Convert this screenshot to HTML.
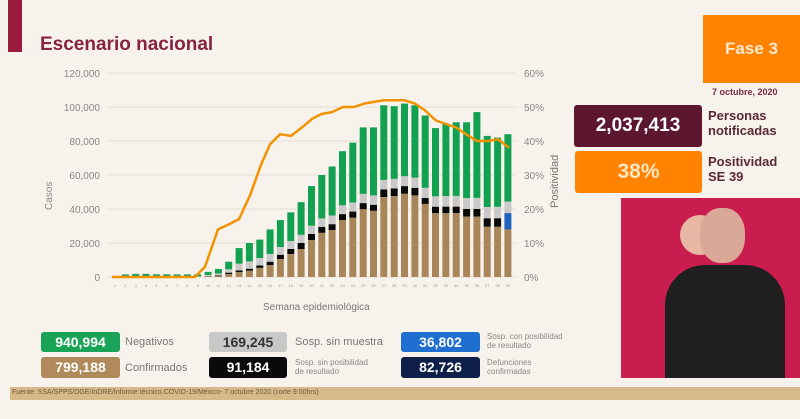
<!DOCTYPE html>
<html><head><meta charset="utf-8"><style>
*{margin:0;padding:0;box-sizing:border-box}
body{width:800px;height:419px;overflow:hidden;background:#f7f3ec;font-family:"Liberation Sans",sans-serif;position:relative}
.a{position:absolute}
.box{position:absolute;color:#fff;font-weight:bold;text-align:center;border-radius:3px}
.lbl{position:absolute;color:#777;font-size:11px;line-height:11px}
.sl{position:absolute;color:#888;font-size:8px;line-height:9px}
</style></head><body>
<div class="a" style="left:8px;top:0;width:14px;height:52px;background:#9b1b3f"></div>
<div class="a" style="left:40px;top:34px;font-size:19px;font-weight:bold;color:#862242">Escenario nacional</div>
<svg class="a" style="left:0;top:0" width="800" height="419" id="s"></svg>
<div class="a" style="left:703px;top:15px;width:97px;height:68px;background:#ff8200;color:#ffe9d0;font-weight:bold;font-size:17px;text-align:center;line-height:68px">Fase 3</div>
<div class="a" style="left:712px;top:87px;font-size:9px;font-weight:bold;color:#7a2a40">7 octubre, 2020</div>
<div class="box" style="left:574px;top:105px;width:128px;height:42px;background:#5d1630;font-size:19px;line-height:42px">2,037,413</div>
<div class="a" style="left:708px;top:108px;font-size:13px;font-weight:bold;color:#5a2a30;line-height:15px">Personas<br>notificadas</div>
<div class="box" style="left:575px;top:151px;width:127px;height:42px;background:#ff8200;color:#ffe6c0;font-size:21px;line-height:42px">38%</div>
<div class="a" style="left:708px;top:154px;font-size:13px;font-weight:bold;color:#5a2a30;line-height:15px">Positividad<br>SE 39</div>
<div class="a" style="left:621px;top:198px;width:179px;height:180px;background:#c81d4e"></div>
<div class="a" style="left:680px;top:215px;width:40px;height:40px;border-radius:50%;background:#e8b7a4"></div>
<div class="a" style="left:700px;top:208px;width:45px;height:55px;border-radius:45%;background:#d9a896"></div>
<div class="a" style="left:665px;top:265px;width:120px;height:113px;border-radius:40px 40px 0 0;background:#1f1f1f"></div>
<div class="a" style="left:10px;top:387px;width:790px;height:13px;background:#d8b98a"></div>
<div class="a" style="left:12px;top:389px;font-size:7px;color:#6b5a3a">Fuente: SSA/SPPS/DGE/InDRE/Informe técnico.COVID-19/México- 7 octubre 2020 (corte 9:00hrs)</div>
<div class="a" style="left:263px;top:302px;font-size:10px;color:#777">Semana epidemiológica</div>
<div class="box" style="left:41px;top:332px;width:79px;height:20px;background:#19a356;font-size:14px;line-height:20px">940,994</div>
<div class="box" style="left:41px;top:357px;width:79px;height:21px;background:#b08a5a;font-size:14px;line-height:21px">799,188</div>
<div class="box" style="left:209px;top:332px;width:78px;height:20px;background:#c8c8c8;color:#333;font-size:14px;line-height:20px">169,245</div>
<div class="box" style="left:209px;top:357px;width:78px;height:21px;background:#0a0a0a;font-size:14px;line-height:21px">91,184</div>
<div class="box" style="left:401px;top:332px;width:79px;height:20px;background:#1f6fd0;font-size:14px;line-height:20px">36,802</div>
<div class="box" style="left:401px;top:357px;width:79px;height:21px;background:#0e1f4a;font-size:14px;line-height:21px">82,726</div>
<div class="lbl" style="left:125px;top:337px">Negativos</div>
<div class="lbl" style="left:125px;top:363px">Confirmados</div>
<div class="lbl" style="left:295px;top:337px">Sosp. sin muestra</div>
<div class="sl" style="left:295px;top:358px">Sosp. sin posibilidad<br>de resultado</div>
<div class="sl" style="left:487px;top:332px">Sosp. con posibilidad<br>de resultado</div>
<div class="sl" style="left:487px;top:358px">Defunciones<br>confirmadas</div>
<script>
var s=document.getElementById('s'),h='';
function Y(k){return 277-k*1.7}
for(var i=0;i<=6;i++){var y=277-i*34;h+='<line x1="108" x2="515" y1="'+y+'" y2="'+y+'" stroke="#e2ddd5" stroke-width="1"/>';
h+='<text x="100" y="'+(y+4)+'" font-size="10" fill="#888" text-anchor="end" font-family="Liberation Sans">'+(i==0?'0':(i*20)+',000')+'</text>';
h+='<text x="524" y="'+(y+4)+'" font-size="10" fill="#888" font-family="Liberation Sans">'+(i*10)+'%</text>';}
h+='<text transform="translate(52,210) rotate(-90)" font-size="10" fill="#888" font-family="Liberation Sans">Casos</text>';
h+='<text transform="translate(558,208) rotate(-90)" font-size="11" fill="#777" font-family="Liberation Sans">Positividad</text>';
var tot=[0.5,1.5,1.8,1.8,1.6,1.6,1.5,1.5,1.5,3,4.7,9,17,20,22,28,33.5,38,44,53.5,60,65,74,79,88,88,101,100.5,102,101,95,87.6,90,91,91,97,83,82,84];
var br=[0.1,0.1,0.1,0.1,0.1,0.1,0.1,0.1,0.1,0.3,0.5,1.8,2.9,3.7,5.3,7,10.6,13.5,16.5,21.8,26,27.6,33.5,35,40,39,47,47.6,49,48,43,37.6,37.6,37.6,35.5,35.5,29.6,29.6,28];
var bk=[0,0,0,0,0,0,0,0,0,0.2,0.4,0.8,1,1.2,1.5,2,2.5,3,3.5,3.5,3.5,3.5,3.5,3.5,3.5,3.5,4.5,4.5,4.5,4.5,3.5,3.8,3.8,3.8,4.5,4.5,5,5,0];
for(var i=0;i<39;i++){var x=115+i*10.34-3.5,b=0;
var gr=i<9?0.2:Math.min(3+i*0.1,7,(tot[i]-br[i]-bk[i])*0.3);var bl=i==38?9.6:0;
var seg=[[br[i],'#a9865a'],[bl,'#1f62c0'],[bk[i],'#0a0a0a'],[gr,'#c9c9c9'],[tot[i]-br[i]-bk[i]-gr-bl,'#12a150']];
seg.forEach(function(g){if(g[0]<=0)return;h+='<rect x="'+x.toFixed(1)+'" y="'+Y(b+g[0]).toFixed(1)+'" width="7" height="'+(g[0]*1.7).toFixed(1)+'" fill="'+g[1]+'"/>';b+=g[0];});
h+='<text x="'+(x+3.5)+'" y="287" font-size="4" fill="#999" text-anchor="middle">'+(i+1)+'</text>';}
var L=[[112,0],[195,0],[205,3],[218,14],[229,15.5],[239,17],[250,24],[261,33],[270,39],[280,42],[291,41.5],[302,44],[312,46.5],[322,48],[332,48.5],[343,50],[354,50],[364,51],[374,51.5],[384,52],[394,52],[404,52],[415,51],[425,49],[436,46],[446,45],[456,44],[466,42],[477,40],[488,40],[498,40.5],[509,38]];
h+='<polyline fill="none" stroke="#f39200" stroke-width="2.5" stroke-linejoin="round" points="'+L.map(function(p){return p[0]+','+(277-p[1]*3.4).toFixed(1)}).join(' ')+'"/>';
s.innerHTML=h;
</script>
</body></html>
